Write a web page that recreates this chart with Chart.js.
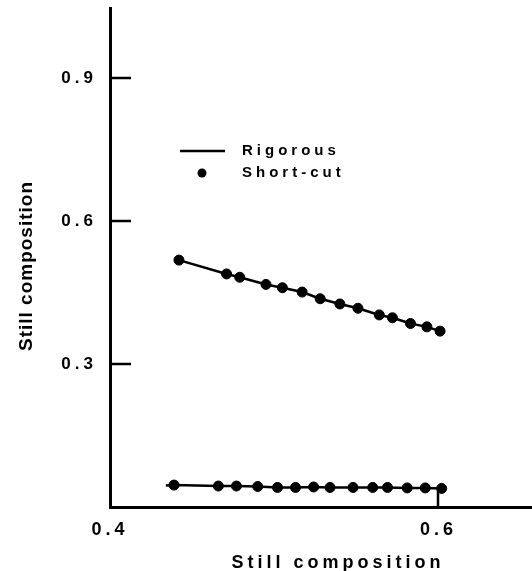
<!DOCTYPE html>
<html lang="en">
<head>
  <meta charset="UTF-8" />
  <title>Still composition</title>
  <script src="https://cdn.jsdelivr.net/npm/chart.js"></script>
  <style>
    body {
      margin: 0;
      padding: 0;
      background-color: white;
      overflow: hidden;
    }
    canvas { display: block; }
  </style>
</head>
<body>
  <canvas id="stillChart" width="532" height="571"></canvas>

  <script>
    // values
    const upperX = [0.442, 0.471, 0.479, 0.495, 0.505, 0.517, 0.528, 0.540, 0.551, 0.564, 0.572, 0.583, 0.593, 0.601];
    const upperY = [0.518, 0.489, 0.482, 0.467, 0.460, 0.451, 0.437, 0.426, 0.417, 0.403, 0.397, 0.385, 0.378, 0.369];
    const lowerX = [0.439, 0.466, 0.477, 0.490, 0.502, 0.513, 0.524, 0.534, 0.548, 0.560, 0.569, 0.581, 0.592, 0.602];
    const lowerY = [0.046, 0.044, 0.044, 0.043, 0.041, 0.041, 0.042, 0.041, 0.041, 0.041, 0.041, 0.040, 0.040, 0.039];

    const rigUpperX = [0.442, 0.471, 0.479, 0.495, 0.505, 0.517, 0.528, 0.540, 0.551, 0.564, 0.572, 0.583, 0.593, 0.601];
    const rigUpperY = [0.518, 0.489, 0.482, 0.467, 0.460, 0.451, 0.437, 0.426, 0.417, 0.403, 0.397, 0.385, 0.378, 0.369];
    const rigLowerX = [0.434, 0.439, 0.466, 0.477, 0.490, 0.502, 0.513, 0.524, 0.534, 0.548, 0.560, 0.569, 0.581, 0.592, 0.602];
    const rigLowerY = [0.045, 0.046, 0.044, 0.044, 0.043, 0.041, 0.041, 0.042, 0.041, 0.041, 0.041, 0.041, 0.040, 0.040, 0.039];

    const xTicks = [0.4, 0.6];
    const yTicks = [0.3, 0.6, 0.9];
    const legendLabels = ['Rigorous', 'Short-cut'];
    const axisTitle = 'Still composition';

    const FONT = "'Liberation Sans', Arial, sans-serif";
    const toPoints = (xs, ys) => xs.map((x, i) => ({ x, y: ys[i] }));

    // letter spacing for the tick labels, inward tick marks, titles and legend
    const paperPlugin = {
      id: 'paper',
      beforeDraw(chart) {
        chart.ctx.letterSpacing = '4px';
      },
      afterDraw(chart) {
        const ctx = chart.ctx;
        const xs = chart.scales.x;
        const ys = chart.scales.y;
        const area = chart.chartArea;
        ctx.save();
        ctx.strokeStyle = '#000';
        ctx.lineWidth = 2.5;
        ctx.beginPath();
        yTicks.forEach(v => {
          const py = Math.round(ys.getPixelForValue(v));
          ctx.moveTo(area.left, py);
          ctx.lineTo(area.left + 21, py);
        });
        xTicks.forEach(v => {
          const px = Math.round(xs.getPixelForValue(v));
          if (px > area.left + 5) {
            ctx.moveTo(px, area.bottom);
            ctx.lineTo(px, area.bottom - 17);
          }
        });
        ctx.stroke();

        ctx.fillStyle = '#000';
        // x title
        ctx.font = `bold 18px ${FONT}`;
        ctx.letterSpacing = '4px';
        ctx.textAlign = 'center';
        ctx.textBaseline = 'alphabetic';
        ctx.fillText(axisTitle, 338, 568);

        // y title
        ctx.save();
        ctx.translate(32, 266);
        ctx.rotate(-Math.PI / 2);
        ctx.font = `bold 19px ${FONT}`;
        ctx.letterSpacing = '1px';
        ctx.fillText(axisTitle, 0, 0);
        ctx.restore();

        // legend
        ctx.lineWidth = 2.5;
        ctx.beginPath();
        ctx.moveTo(180, 151);
        ctx.lineTo(225, 151);
        ctx.stroke();
        ctx.beginPath();
        ctx.arc(202, 173, 4.5, 0, Math.PI * 2);
        ctx.fill();
        ctx.font = `bold 15px ${FONT}`;
        ctx.letterSpacing = '4px';
        ctx.textAlign = 'left';
        ctx.textBaseline = 'middle';
        ctx.fillText(legendLabels[0], 242, 151);
        ctx.fillText(legendLabels[1], 242, 173);
        ctx.restore();
      }
    };

    const lineStyle = {
      type: 'line',
      borderColor: '#000',
      borderWidth: 2.5,
      pointRadius: 0,
      fill: false,
      showLine: true
    };
    const dotStyle = {
      type: 'scatter',
      backgroundColor: '#000',
      borderColor: '#000',
      pointRadius: 5,
      pointHoverRadius: 5,
      showLine: false
    };

    new Chart(document.getElementById('stillChart').getContext('2d'), {
      type: 'scatter',
      data: {
        datasets: [
          { ...lineStyle, label: legendLabels[0], data: toPoints(rigUpperX, rigUpperY) },
          { ...lineStyle, label: legendLabels[0], data: toPoints(rigLowerX, rigLowerY) },
          { ...dotStyle, label: legendLabels[1], data: toPoints(upperX, upperY) },
          { ...dotStyle, label: legendLabels[1], data: toPoints(lowerX, lowerY) }
        ]
      },
      options: {
        responsive: false,
        animation: false,
        layout: { autoPadding: false, padding: { top: 8, right: 0, bottom: 0, left: 0 } },
        plugins: {
          legend: { display: false },
          tooltip: { enabled: false }
        },
        scales: {
          x: {
            type: 'linear',
            min: 0.4,
            max: 0.657,
            afterFit: scale => {
              scale.height = 64;
              scale.paddingLeft = 0;
              scale.paddingRight = 0;
            },
            afterBuildTicks: scale => { scale.ticks = xTicks.map(v => ({ value: v })); },
            grid: { display: false, drawTicks: false },
            border: { display: true, color: '#000', width: 3 },
            ticks: {
              color: '#000',
              padding: 12,
              maxRotation: 0,
              font: { family: FONT, size: 18, weight: 'bold' },
              callback: v => v.toFixed(1)
            }
          },
          y: {
            type: 'linear',
            min: 0,
            max: 1.047,
            afterFit: scale => {
              scale.width = 110;
              scale.paddingTop = 0;
              scale.paddingBottom = 0;
            },
            afterBuildTicks: scale => { scale.ticks = yTicks.map(v => ({ value: v })); },
            grid: { display: false, drawTicks: false },
            border: { display: true, color: '#000', width: 3 },
            ticks: {
              color: '#000',
              padding: 13,
              font: { family: FONT, size: 17, weight: 'bold' },
              callback: v => v.toFixed(1)
            }
          }
        }
      },
      plugins: [paperPlugin]
    });
  </script>
</body>
</html>
